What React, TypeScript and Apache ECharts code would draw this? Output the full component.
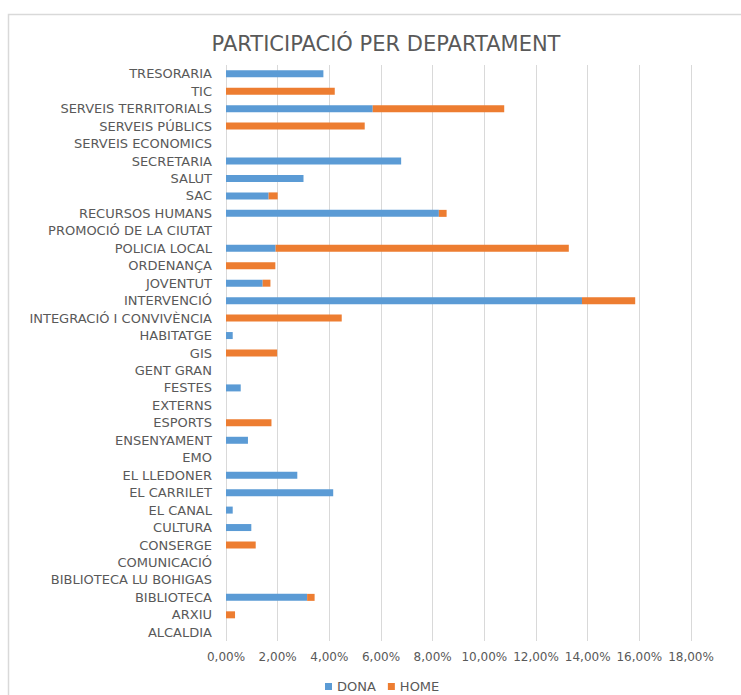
import React, { useEffect, useRef } from "react";
import * as echarts from "echarts";

const categories = [
  "TRESORARIA", "TIC", "SERVEIS TERRITORIALS", "SERVEIS PÚBLICS", "SERVEIS ECONOMICS",
  "SECRETARIA", "SALUT", "SAC", "RECURSOS HUMANS", "PROMOCIÓ DE LA CIUTAT",
  "POLICIA LOCAL", "ORDENANÇA", "JOVENTUT", "INTERVENCIÓ", "INTEGRACIÓ I CONVIVÈNCIA",
  "HABITATGE", "GIS", "GENT GRAN", "FESTES", "EXTERNS", "ESPORTS", "ENSENYAMENT",
  "EMO", "EL LLEDONER", "EL CARRILET", "EL CANAL", "CULTURA", "CONSERGE",
  "COMUNICACIÓ", "BIBLIOTECA LU BOHIGAS", "BIBLIOTECA", "ARXIU", "ALCALDIA",
];

const dona = [
  3.77, 0, 5.68, 0, 0,
  6.78, 3.0, 1.65, 8.24, 0,
  1.92, 0, 1.42, 13.78, 0,
  0.26, 0, 0, 0.57, 0, 0, 0.85,
  0, 2.76, 4.15, 0.26, 0.98, 0,
  0, 0, 3.14, 0, 0,
];

const home = [
  0, 4.21, 5.09, 5.37, 0,
  0, 0, 0.35, 0.3, 0,
  11.35, 1.91, 0.3, 2.06, 4.48,
  0, 1.98, 0, 0, 0, 1.76, 0,
  0, 0, 0, 0, 0, 1.15,
  0, 0, 0.29, 0.35, 0,
];

const seriesNames = ["DONA", "HOME"];
const title = "PARTICIPACIÓ PER DEPARTAMENT";

export default function App() {
  const ref = useRef<HTMLDivElement>(null);
  useEffect(() => {
    if (!ref.current) return;
    const chart = echarts.init(ref.current, undefined, { renderer: "svg" });
    const font = "'DejaVu Sans', sans-serif";
    chart.setOption({
      animation: false,
      backgroundColor: "#ffffff",
      title: {
        text: title,
        left: 381,
        textAlign: "center",
        top: 28,
        textStyle: { fontFamily: font, fontSize: 21, fontWeight: "normal", color: "#595959" },
      },
      graphic: [
        {
          type: "rect",
          shape: { x: 8.5, y: 14.5, width: 760, height: 700 },
          style: { fill: "none", stroke: "#d9d9d9", lineWidth: 1.5 },
          silent: true,
          z: -1,
        },
      ],
      legend: {
        data: seriesNames,
        top: 675,
        left: 320,
        itemWidth: 7,
        itemHeight: 7,
        itemGap: 12,
        icon: "rect",
        textStyle: { fontFamily: font, fontSize: 13, color: "#595959" },
      },
      grid: { left: 226, right: 50, top: 65, bottom: 54, containLabel: false },
      xAxis: {
        type: "value",
        min: 0,
        max: 18,
        interval: 2,
        axisLine: { show: false },
        axisTick: { show: false },
        splitLine: { show: true, lineStyle: { color: "#d9d9d9", width: 1 } },
        axisLabel: {
          fontFamily: font,
          fontSize: 12,
          color: "#595959",
          margin: 10,
          formatter: (v: number) => v.toFixed(2).replace(".", ",") + "%",
        },
      },
      yAxis: {
        type: "category",
        data: categories,
        inverse: true,
        axisLine: { show: false },
        axisTick: { show: false },
        axisLabel: { fontFamily: font, fontSize: 13, color: "#595959", margin: 14 },
      },
      series: [
        {
          name: seriesNames[0],
          type: "bar",
          stack: "total",
          data: dona,
          barWidth: 7,
          itemStyle: { color: "#5b9bd5" },
        },
        {
          name: seriesNames[1],
          type: "bar",
          stack: "total",
          data: home,
          barWidth: 7,
          itemStyle: { color: "#ed7d31" },
        },
      ],
    });
    return () => chart.dispose();
  }, []);
  return (
    <div
      ref={ref}
      style={{ position: "fixed", left: 0, top: 0, width: 741, height: 695 }}
    />
  );
}
